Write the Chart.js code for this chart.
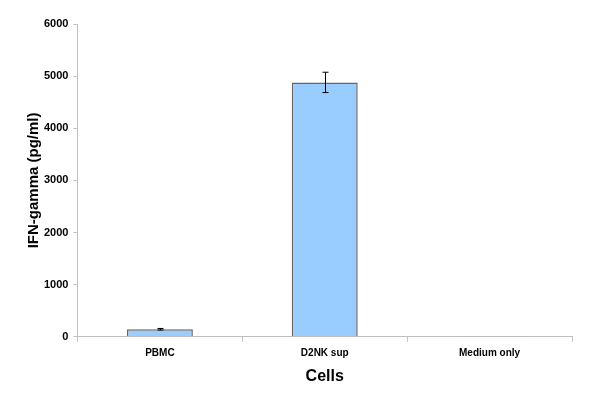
<!DOCTYPE html>
<html>
<head>
<meta charset="utf-8">
<script src="https://cdn.jsdelivr.net/npm/chart.js@4/dist/chart.umd.min.js"></script>
<style>
  html, body { margin: 0; padding: 0; background: #fff; }
  #wrap { width: 600px; height: 398px; }
</style>
</head>
<body>
<div id="wrap"><canvas id="ifnChart" width="600" height="398"></canvas></div>
<script>
const cells = ["PBMC", "D2NK sup", "Medium only"];
const ifnValues = [145, 4880, 8];
const ifnErrors = [15, 195, 0];
const yTicks = [0, 1000, 2000, 3000, 4000, 5000, 6000];

// draws the error bars from the data arrays via the scales
const errorBars = {
    id: "errorBars",
    afterDatasetsDraw(chart) {
        const ctx = chart.ctx;
        const x = chart.scales.x;
        const y = chart.scales.y;
        ctx.save();
        ctx.strokeStyle = "#000";
        ctx.lineWidth = 1;
        ifnValues.forEach((v, i) => {
            const err = ifnErrors[i];
            if (!err) return;
            const px = Math.round(x.getPixelForValue(i)) + 0.5;
            const top = y.getPixelForValue(v + err);
            const bot = y.getPixelForValue(v - err);
            ctx.beginPath();
            ctx.moveTo(px, top);
            ctx.lineTo(px, bot);
            ctx.moveTo(px - 3, top);
            ctx.lineTo(px + 3, top);
            ctx.moveTo(px - 3, bot);
            ctx.lineTo(px + 3, bot);
            ctx.stroke();
        });
        ctx.restore();
    }
};

const ctx = document.getElementById("ifnChart");
new Chart(ctx, {
    type: "bar",
    data: {
        labels: cells,
        datasets: [
            {
                data: ifnValues,
                backgroundColor: "#99ccff",
                borderColor: "#666666",
                borderWidth: 1.5,
                categoryPercentage: 0.4,
                barPercentage: 1
            }
        ]
    },
    options: {
        responsive: false,
        animation: false,
        layout: {
            padding: { top: 24, right: 28, left: 21, bottom: 8 }
        },
        plugins: {
            legend: { display: false },
            tooltip: { enabled: false }
        },
        scales: {
            x: {
                offset: true,
                grid: {
                    display: true,
                    offset: true,
                    drawOnChartArea: false,
                    color: "#c0c0c0",
                    tickLength: 5
                },
                border: { color: "#c0c0c0", width: 1 },
                ticks: {
                    color: "#000",
                    padding: 5,
                    font: { family: "Liberation Sans", size: 10, weight: "bold" }
                },
                title: {
                    display: true,
                    text: "Cells",
                    color: "#000",
                    padding: { top: 3 },
                    font: { family: "Liberation Sans", size: 16, weight: "bold" }
                }
            },
            y: {
                min: 0,
                max: 6000,
                afterBuildTicks: (axis) => {
                    axis.ticks = yTicks.map(v => ({ value: v }));
                },
                grid: {
                    display: true,
                    drawOnChartArea: false,
                    color: "#c0c0c0",
                    tickLength: 4
                },
                border: { color: "#c0c0c0", width: 1 },
                ticks: {
                    color: "#000",
                    padding: 5,
                    callback: (v) => String(v),
                    font: { family: "Liberation Sans", size: 11, weight: "bold" }
                },
                title: {
                    display: true,
                    text: "IFN-gamma (pg/ml)",
                    color: "#000",
                    padding: { top: 4, bottom: -4 },
                    font: { family: "Liberation Sans", size: 15, weight: "bold" }
                }
            }
        }
    },
    plugins: [errorBars]
});
</script>
</body>
</html>
